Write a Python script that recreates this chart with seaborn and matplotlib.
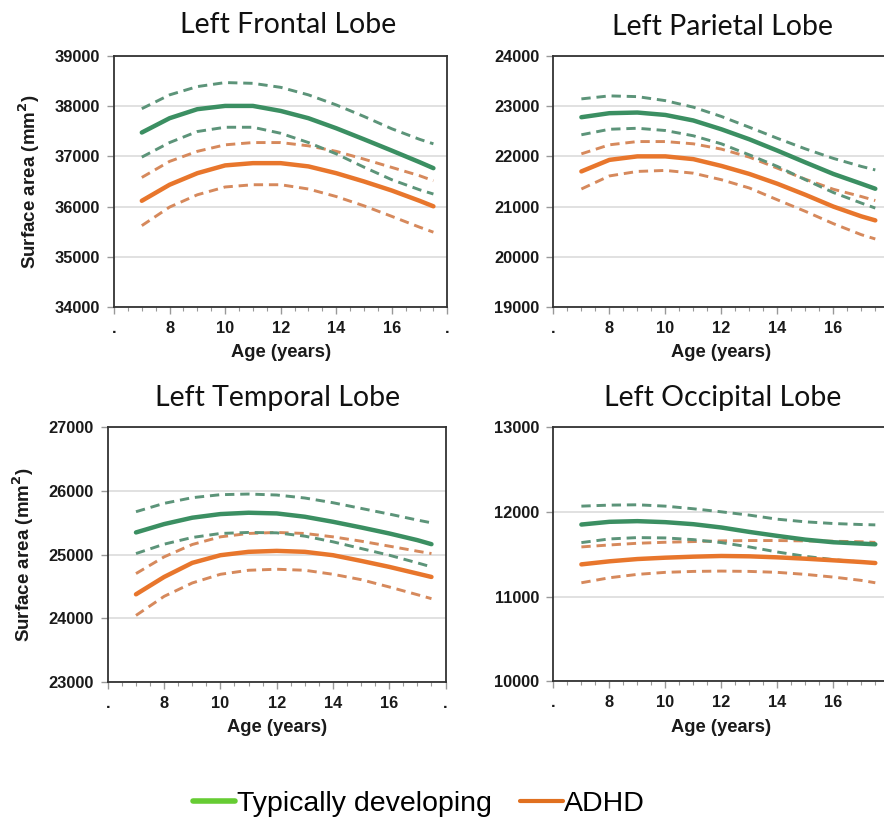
import numpy as np
import pandas as pd
import matplotlib
matplotlib.use("Agg")
import matplotlib.pyplot as plt
from matplotlib.lines import Line2D
from matplotlib.ticker import MultipleLocator, FixedLocator
import seaborn as sns

sns.set_style("white")
plt.rcParams['font.family'] = ['Liberation Sans', 'DejaVu Sans']

# ages at which curves were read
age = [7, 8, 9, 10, 11, 12, 13, 14, 15, 16, 17, 17.5]

# Left Frontal Lobe
frontal_td = [37475, 37760, 37940, 38005, 38005, 37905, 37760, 37560, 37340, 37115, 36885, 36765]
frontal_td_hi = [37950, 38225, 38390, 38470, 38455, 38375, 38225, 38025, 37795, 37550, 37340, 37250]
frontal_td_lo = [36985, 37275, 37495, 37580, 37580, 37460, 37275, 37050, 36785, 36535, 36335, 36250]
frontal_adhd = [36115, 36435, 36665, 36820, 36865, 36865, 36800, 36665, 36500, 36320, 36115, 36005]
frontal_adhd_hi = [36580, 36900, 37100, 37230, 37275, 37275, 37210, 37100, 36945, 36780, 36615, 36515]
frontal_adhd_lo = [35620, 35990, 36235, 36390, 36435, 36435, 36350, 36200, 36015, 35805, 35590, 35490]

# Left Parietal Lobe
parietal_td = [22780, 22860, 22873, 22825, 22715, 22540, 22340, 22115, 21880, 21650, 21455, 21355]
parietal_td_hi = [23145, 23205, 23190, 23110, 22980, 22795, 22580, 22360, 22150, 21960, 21800, 21730]
parietal_td_lo = [22430, 22540, 22560, 22515, 22410, 22250, 22030, 21800, 21535, 21280, 21070, 20970]
parietal_adhd = [21700, 21930, 22000, 22000, 21945, 21810, 21650, 21455, 21235, 21000, 20805, 20725]
parietal_adhd_hi = [22050, 22230, 22295, 22295, 22250, 22145, 21985, 21765, 21545, 21345, 21200, 21120]
parietal_adhd_lo = [21350, 21610, 21700, 21720, 21665, 21535, 21370, 21135, 20905, 20660, 20440, 20355]

# Left Temporal Lobe
temporal_td = [25349, 25480, 25580, 25637, 25658, 25647, 25595, 25516, 25427, 25333, 25228, 25165]
temporal_td_hi = [25674, 25805, 25894, 25941, 25951, 25936, 25889, 25815, 25726, 25637, 25543, 25500]
temporal_td_lo = [25018, 25165, 25270, 25333, 25349, 25343, 25291, 25202, 25097, 24992, 24872, 24809]
temporal_adhd = [24379, 24651, 24872, 24992, 25045, 25060, 25045, 24992, 24903, 24809, 24704, 24651]
temporal_adhd_hi = [24704, 24966, 25160, 25280, 25333, 25349, 25333, 25280, 25212, 25134, 25055, 25018]
temporal_adhd_lo = [24048, 24347, 24557, 24693, 24756, 24772, 24756, 24693, 24609, 24494, 24373, 24311]

# Left Occipital Lobe
occipital_td = [11851, 11883, 11891, 11879, 11855, 11816, 11764, 11717, 11673, 11642, 11626, 11618]
occipital_td_hi = [12068, 12080, 12084, 12068, 12037, 12001, 11962, 11914, 11883, 11863, 11851, 11847]
occipital_td_lo = [11638, 11681, 11697, 11693, 11673, 11638, 11587, 11527, 11476, 11437, 11409, 11397]
occipital_adhd = [11381, 11417, 11444, 11460, 11472, 11480, 11476, 11464, 11448, 11429, 11409, 11397]
occipital_adhd_hi = [11587, 11610, 11630, 11642, 11650, 11658, 11662, 11662, 11658, 11654, 11648, 11640]
occipital_adhd_lo = [11164, 11223, 11263, 11287, 11298, 11302, 11298, 11287, 11263, 11231, 11192, 11164]

panels = [
    ("Left Frontal Lobe", (34000, 39000),
     [frontal_td, frontal_td_hi, frontal_td_lo, frontal_adhd, frontal_adhd_hi, frontal_adhd_lo]),
    ("Left Parietal Lobe", (19000, 24000),
     [parietal_td, parietal_td_hi, parietal_td_lo, parietal_adhd, parietal_adhd_hi, parietal_adhd_lo]),
    ("Left Temporal Lobe", (23000, 27000),
     [temporal_td, temporal_td_hi, temporal_td_lo, temporal_adhd, temporal_adhd_hi, temporal_adhd_lo]),
    ("Left Occipital Lobe", (10000, 13000),
     [occipital_td, occipital_td_hi, occipital_td_lo, occipital_adhd, occipital_adhd_hi, occipital_adhd_lo]),
]

# axes rectangles in figure fraction (right column runs slightly off the page, like the source)
rects = [
    [0.129, 0.627, 0.377, 0.305],
    [0.626, 0.627, 0.380, 0.305],
    [0.122, 0.171, 0.382, 0.310],
    [0.626, 0.172, 0.380, 0.309],
]
title_pos = [(288, 25), (722, 27), (278, 398), (723, 398)]

green = "#3b8f62"
green_d = "#5c9479"
orange = "#e8762c"
orange_d = "#d6895c"

fig = plt.figure(figsize=(8.84, 8.23), dpi=100)

for i, (name, ylim, series) in enumerate(panels):
    ax = fig.add_axes(rects[i])
    td, td_hi, td_lo, ad, ad_hi, ad_lo = series
    for vals in (ad_hi, ad_lo):
        sns.lineplot(x=age, y=vals, ax=ax, color=orange_d, lw=2.1)
    for vals in (td_hi, td_lo):
        sns.lineplot(x=age, y=vals, ax=ax, color=green_d, lw=2.1)
    for line in ax.lines:
        line.set_dashes((3.2, 2.0))
    sns.lineplot(x=age, y=ad, ax=ax, color=orange, lw=3.2)
    sns.lineplot(x=age, y=td, ax=ax, color=green, lw=3.2)

    ax.set_xlim(6, 18)
    ax.set_ylim(*ylim)
    ax.yaxis.set_major_locator(MultipleLocator(1000))
    ax.xaxis.set_major_locator(FixedLocator([6, 8, 10, 12, 14, 16, 18]))
    # right column's last label falls off the page in the source
    last = "." if i % 2 == 0 else ""
    ax.set_xticklabels([".", "8", "10", "12", "14", "16", last])
    ax.xaxis.set_minor_locator(MultipleLocator(0.5))
    ax.grid(axis="y", color="#dcdcdc", lw=1.2)
    ax.set_axisbelow(True)
    for s in ax.spines.values():
        s.set_color("#333333")
        s.set_linewidth(1.3)
    ax.tick_params(axis="both", which="major", direction="out", length=5, width=1,
                   color="#999999", labelsize=11.8, pad=5)
    ax.tick_params(axis="x", which="minor", direction="out", length=3, width=0.8,
                   color="#999999")
    ax.tick_params(axis="y", which="major", left=True)
    ax.tick_params(axis="x", which="both", bottom=True)
    for lab in ax.get_xticklabels() + ax.get_yticklabels():
        lab.set_fontweight("bold")
        lab.set_color("#1a1a1a")
    ax.set_xlabel("Age (years)", fontsize=13.2, fontweight="bold", color="#1a1a1a", labelpad=6)
    if i % 2 == 0:
        ax.set_ylabel("Surface area (mm$^\\mathbf{2}$)", fontsize=13.5, fontweight="bold",
                      color="#1a1a1a", labelpad=9)
    else:
        ax.set_ylabel("")
    tx, ty = title_pos[i]
    fig.text(tx / 884, 1 - ty / 823, name, ha="center", va="center",
             fontsize=20.5, family=["Lato", "DejaVu Sans"], color="#111111")

handles = [Line2D([], [], color="#66cc33", lw=4), Line2D([], [], color="#e07020", lw=3)]
leg = fig.legend(handles, ["Typically developing", "ADHD"], loc="center",
                 bbox_to_anchor=(419 / 884, 1 - 804 / 823), ncol=2, frameon=False,
                 fontsize=20.5, handlelength=1.5, handletextpad=0.05, columnspacing=1.0)
for t in leg.get_texts():
    t.set_color("black")

fig.savefig("out.png", dpi=100)
